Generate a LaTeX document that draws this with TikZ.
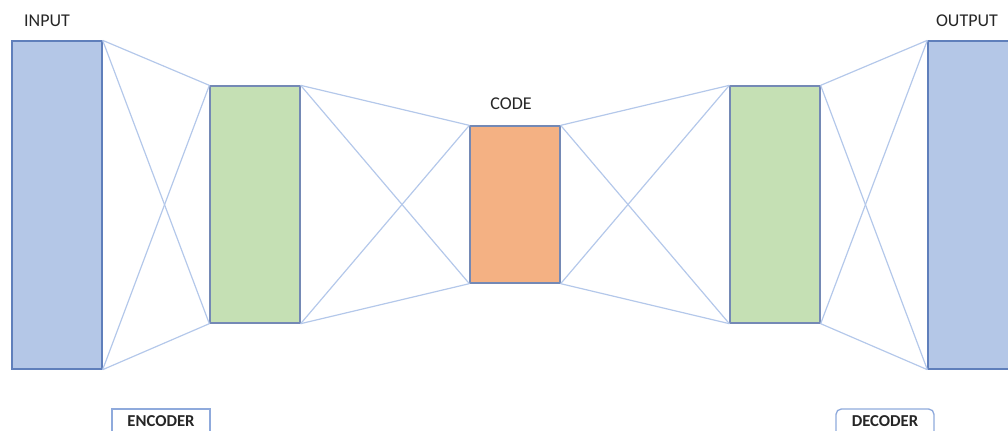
\documentclass[tikz,border=0pt]{standalone}
\usepackage{fontspec}
\setmainfont{Carlito}
\definecolor{inblue}{HTML}{B4C7E7}
\definecolor{inborder}{HTML}{5F7FBB}
\definecolor{ingreen}{HTML}{C5E0B4}
\definecolor{inorange}{HTML}{F4B183}
\definecolor{boxborder}{HTML}{7489B5}
\definecolor{wire}{HTML}{B4C8EA}
\definecolor{labelbox}{HTML}{8FAADC}
\definecolor{txt}{HTML}{262626}
\begin{document}
\begin{tikzpicture}[x=0.75pt,y=-0.75pt,
  layer/.style={draw=boxborder,line width=1pt,minimum width=67.5pt,inner sep=0pt},
  wireline/.style={draw=wire,line width=0.9pt},
  lbl/.style={font=\fontsize{13.5}{16}\selectfont,text=txt,inner sep=0pt},
  tag/.style={font=\fontsize{12.5}{15}\selectfont\bfseries,text=txt,inner sep=0pt,anchor=base}]
\useasboundingbox (0,0) rectangle (1008,430);
\clip (0,0) rectangle (1008,430);
% wires first (behind boxes)
\node[layer,fill=inblue,draw=inborder,minimum height=246pt] (in) at (57,205) {};
\node[layer,fill=ingreen,minimum height=177.75pt] (ga) at (255,204.5) {};
\node[layer,fill=inorange,minimum height=117.75pt] (code) at (515,204.5) {};
\node[layer,fill=ingreen,minimum height=177.75pt] (gb) at (775,204.5) {};
\node[layer,fill=inblue,draw=inborder,minimum height=246pt] (out) at (973,205) {};
\begin{scope}[on background layer/.style={}]
\draw[wireline] (in.north east) -- (ga.north west);
\draw[wireline] (in.north east) -- (ga.south west);
\draw[wireline] (in.south east) -- (ga.north west);
\draw[wireline] (in.south east) -- (ga.south west);
\draw[wireline] (ga.north east) -- (code.north west);
\draw[wireline] (ga.north east) -- (code.south west);
\draw[wireline] (ga.south east) -- (code.north west);
\draw[wireline] (ga.south east) -- (code.south west);
\draw[wireline] (code.north east) -- (gb.north west);
\draw[wireline] (code.north east) -- (gb.south west);
\draw[wireline] (code.south east) -- (gb.north west);
\draw[wireline] (code.south east) -- (gb.south west);
\draw[wireline] (gb.north east) -- (out.north west);
\draw[wireline] (gb.north east) -- (out.south west);
\draw[wireline] (gb.south east) -- (out.north west);
\draw[wireline] (gb.south east) -- (out.south west);
\end{scope}
\node[lbl] (tin) at (47,21) {INPUT};
\node[lbl] (tcode) at (511,104) {CODE};
\node[lbl] (tout) at (967,21) {OUTPUT};
\draw[draw=labelbox,line width=1pt] (112,440) -- (112,409) -- (210,409) -- (210,440);
\draw[draw=labelbox,line width=1pt,rounded corners=4pt] (836,440) -- (836,409) -- (934,409) -- (934,440);
\node[tag] (enc) at (161,426.5) {ENCODER};
\node[tag] (dec) at (885,426.5) {DECODER};
\end{tikzpicture}
\end{document}
